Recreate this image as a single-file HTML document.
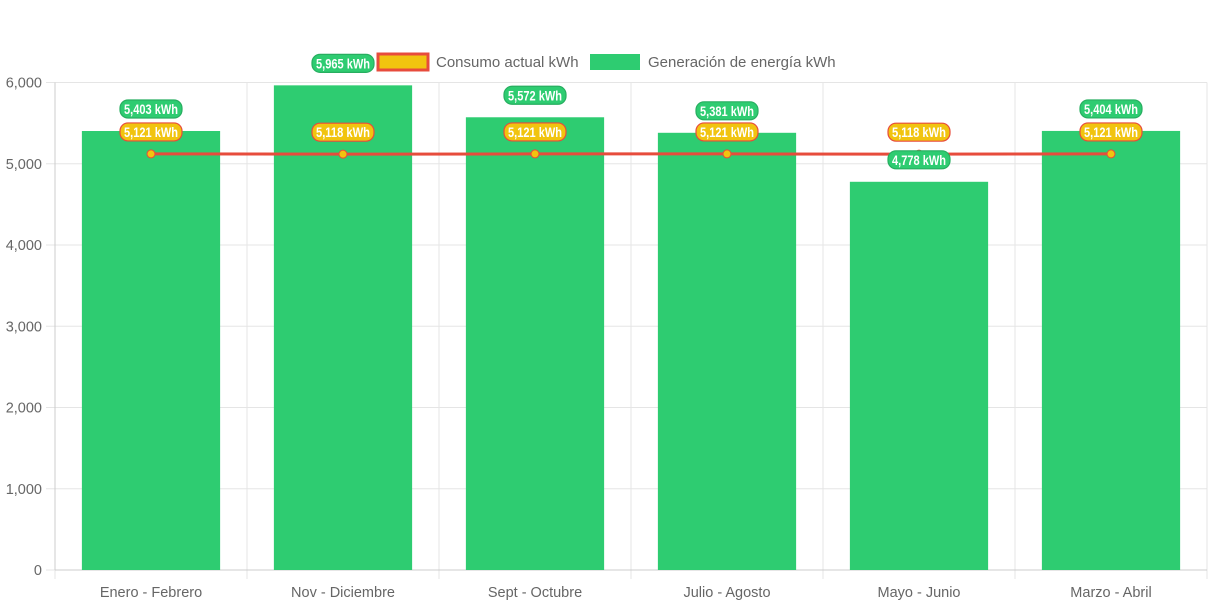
<!DOCTYPE html>
<html><head><meta charset="utf-8"><style>
body{margin:0;background:#fff;width:1213px;height:606px;overflow:hidden;font-family:"Liberation Sans",sans-serif}
</style></head><body>
<svg id="c" width="1213" height="606" xmlns="http://www.w3.org/2000/svg"></svg>
<script>
const categories=["Enero - Febrero","Nov - Diciembre","Sept - Octubre","Julio - Agosto","Mayo - Junio","Marzo - Abril"];
const generacion=[5403,5965,5572,5381,4778,5404];
const consumo=[5121,5118,5121,5121,5118,5121];
const yTicks=[0,1000,2000,3000,4000,5000,6000];
const svg=document.getElementById('c');
const NS='http://www.w3.org/2000/svg';
const L=55,R=1207,T=82.5,B=570,YMAX=6000;
const cw=(R-L)/categories.length;
const xC=i=>L+cw*(i+0.5);
const y=v=>B-(v/YMAX)*(B-T);
function el(t,a,p){const e=document.createElementNS(NS,t);for(const k in a)e.setAttribute(k,a[k]);(p||svg).appendChild(e);return e;}
const fmt=v=>v.toLocaleString('en-US');
yTicks.forEach(v=>{
 const g=el('line',{x1:L-9,x2:R,y1:y(v),y2:y(v),stroke:'#e5e5e5','stroke-width':1});
 
 
 const t=el('text',{x:L-13,y:y(v)+5,'text-anchor':'end','font-size':14.5,fill:'#666'});t.textContent=fmt(v);
 
 
});
for(let i=0;i<=categories.length;i++){
 const x=L+cw*i;
 const g=el('line',{x1:x,x2:x,y1:T,y2:B+9,stroke:'#e5e5e5','stroke-width':1});
 
 
}
el('line',{x1:L,x2:L,y1:T,y2:B,stroke:'#ccc'});
el('line',{x1:L,x2:R,y1:B,y2:B,stroke:'#ccc'});
categories.forEach((c,i)=>{
 const t=el('text',{x:xC(i),y:597,'text-anchor':'middle','font-size':14.5,fill:'#666'});t.textContent=c;
 
 
});
const bw=cw*0.72;
generacion.forEach((v,i)=>{
 const r=el('rect',{x:xC(i)-bw/2,y:y(v),width:bw,height:B-y(v),fill:'#2ecc71'});
 
 
});
const pts=consumo.map((v,i)=>xC(i)+','+y(v)).join(' ');
const ln=el('polyline',{points:pts,fill:'none',stroke:'#e74c3c','stroke-width':3});


consumo.forEach((v,i)=>{
 const p=el('circle',{cx:xC(i),cy:y(v),r:4,fill:'#f1c40f',stroke:'#e74c3c','stroke-width':1});
 
 
});
function label(x,cy,txt,bg,bd,name){
 const g=el('g',{});
 
 
 const w=txt.length*6+8;
 el('rect',{x:x-w/2,y:cy-9,width:w,height:18,rx:8,fill:bg,stroke:bd,'stroke-width':1.2},g);
 const t=el('text',{x:x,y:cy+5,'text-anchor':'middle','font-size':13.5,'font-weight':'bold',fill:'#fff',textLength:w-8,lengthAdjust:'spacingAndGlyphs'},g);t.textContent=txt;
}
generacion.forEach((v,i)=>label(xC(i),y(v)-22,fmt(v)+' kWh','#2ecc71','#27ae60','label-generacion'));
consumo.forEach((v,i)=>label(xC(i),y(v)-22,fmt(v)+' kWh','#f1c40f','#e74c3c','label-consumo'));
const lg=el('g',{});


const l1=el('rect',{x:378,y:54,width:50,height:16,fill:'#f1c40f',stroke:'#e74c3c','stroke-width':3},lg);


const t1=el('text',{x:436,y:67,'font-size':15,fill:'#666'},lg);t1.textContent='Consumo actual kWh';
const l2=el('rect',{x:590,y:54,width:50,height:16,fill:'#2ecc71'},lg);


const t2=el('text',{x:648,y:67,'font-size':15,fill:'#666'},lg);t2.textContent='Generación de energía kWh';
</script>
</body></html>
